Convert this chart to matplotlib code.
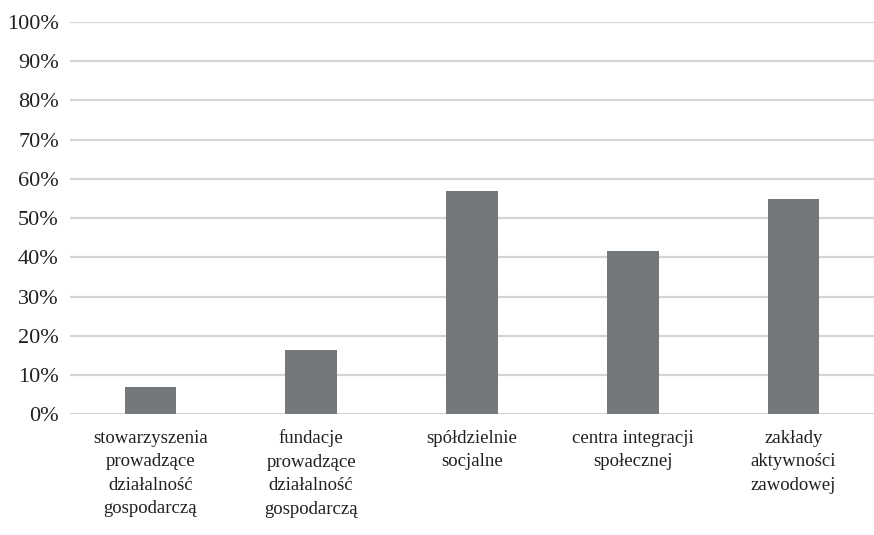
import matplotlib.pyplot as plt
import numpy as np

categories = ['stowarzyszenia\nprowadzące\ndziałalność\ngospodarczą',
              'fundacje\nprowadzące\ndziałalność\ngospodarczą',
              'spółdzielnie\nsocjalne',
              'centra integracji\nspołecznej',
              'zakłady\naktywności\nzawodowej']
values = [0.070, 0.163, 0.568, 0.416, 0.548]
yticks = [0, 0.1, 0.2, 0.3, 0.4, 0.5, 0.6, 0.7, 0.8, 0.9, 1.0]

plt.rcParams['font.family'] = ['Liberation Serif', 'DejaVu Serif']

fig = plt.figure(figsize=(8.74, 5.35), dpi=100)
ax = fig.add_axes([0.08, 0.2256, 0.92, 0.7333])
x = np.arange(len(categories))
ax.bar(x, values, width=0.32, color='#75787b', zorder=3)
ax.set_xlim(-0.5, len(categories) - 0.5)
ax.set_ylim(0, 1.0)
ax.set_yticks(yticks)
ax.set_yticklabels(['%d%%' % round(v * 100) for v in yticks], fontsize=16, color='#231f20')
ax.set_xticks(x)
ax.set_xticklabels(categories, fontsize=13.5, color='#231f20', linespacing=1.5)
ax.grid(axis='y', color='#d4d4d4', linewidth=1.6, zorder=0)
for s in ax.spines.values():
    s.set_visible(False)
ax.tick_params(length=0)
ax.tick_params(axis='y', pad=8)
ax.tick_params(axis='x', pad=11)
fig.savefig('out.png', dpi=100)
